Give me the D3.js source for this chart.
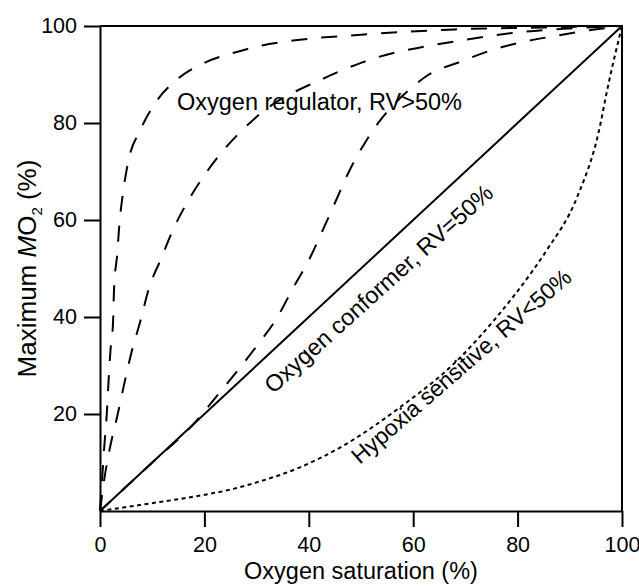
<!DOCTYPE html>
<html lang="en">
<head>
<meta charset="UTF-8" />
<title>Oxygen regulation curves</title>
<script src="https://d3js.org/d3.v7.min.js"></script>
<style>
  body { margin: 0; background: #fff; }
  text { font-family: "Liberation Sans", Arial, sans-serif; fill: #000; }
  .axis path, .axis line { stroke: #000; stroke-width: 2px; }
  .axis text { font-size: 21.5px; }
</style>
</head>
<body>
<div id="chart"></div>
<script>
// ticks
var xTicks = [0, 20, 40, 60, 80, 100];
var yTicks = [20, 40, 60, 80, 100];

// oxygen regulator curves (three dashed lines)
var regAx = [0, 0.4, 0.8, 1.3, 1.6, 2.0, 2.5, 2.7, 3.3, 3.7, 4.4, 5.4, 7.7, 10.5, 14.8, 20, 26, 31, 37, 50, 68, 85, 100];
var regAy = [0, 6.4, 13, 20, 26, 33, 39, 46, 53, 59, 65.5, 72, 78.5, 84, 89, 92.4, 94.6, 96, 97, 98.2, 99.3, 99.7, 100];

var regBx = [0, 0.8, 1.9, 3.4, 4.6, 6.1, 7.7, 9.4, 11.7, 14, 16.9, 20.5, 29.7, 43.5, 50, 56, 62, 69, 75, 81, 90, 100];
var regBy = [0, 6.4, 13, 20, 26, 33, 39, 46, 52, 58, 64, 70, 81, 89.5, 92.4, 94.4, 95.7, 97, 98, 98.8, 99.5, 100];

var regCx = [0, 10, 18, 22.6, 26.4, 30, 34, 37, 40, 42.5, 45, 47.7, 50.8, 54, 59.4, 63, 69, 75, 81, 87.5, 93, 100];
var regCy = [0, 10, 18, 24, 29, 34, 40, 46, 51.7, 57.5, 63.5, 70, 76, 81, 87, 90, 92.6, 95, 96.7, 98, 99, 100];

// oxygen conformer (solid)
var confX = [0, 100];
var confY = [0, 100];

// hypoxia sensitive (dotted)
var hypX = [0, 8.6, 18.2, 24.5, 29.7, 38.3, 46.5, 57.5, 68.4, 76, 83, 85.6, 91.4, 95.5, 97.3, 100];
var hypY = [0, 1.4, 3.0, 4.3, 5.8, 9.0, 13.4, 21.4, 31, 40, 49.7, 53.8, 64.7, 78, 87.5, 100];

function pairs(xs, ys) {
  return xs.map(function(v, i) { return [v, ys[i]]; });
}

var W = 639, H = 587;
var margin = {top: 26, right: 17, bottom: 76, left: 100};
var width = W - margin.left - margin.right,
    height = H - margin.top - margin.bottom;

var svg = d3.select("#chart").append("svg")
    .attr("width", W)
    .attr("height", H);

var g = svg.append("g")
    .attr("transform", "translate(" + margin.left + "," + margin.top + ")");

var x = d3.scaleLinear().domain([0, 100]).range([0, width]);
var y = d3.scaleLinear().domain([0, 100]).range([height, 0]);

// frame (top + right)
g.append("path")
    .attr("d", "M" + x(0) + "," + y(100) + "H" + x(100) + "V" + y(0))
    .attr("fill", "none")
    .attr("stroke", "#000")
    .attr("stroke-width", 2);

// axes
g.append("g")
    .attr("class", "axis")
    .attr("transform", "translate(0," + height + ")")
    .call(d3.axisBottom(x).tickValues(xTicks).tickSize(16).tickSizeOuter(0).tickPadding(10));

g.append("g")
    .attr("class", "axis")
    .call(d3.axisLeft(y).tickValues(yTicks).tickSize(16).tickSizeOuter(0).tickPadding(7));

var line = d3.line()
    .x(function(d) { return x(d[0]); })
    .y(function(d) { return y(d[1]); })
    .curve(d3.curveMonotoneX);

var series = [
  {data: pairs(regAx, regAy), dash: "16,14"},
  {data: pairs(regBx, regBy), dash: "16,14"},
  {data: pairs(regCx, regCy), dash: "16,14"},
  {data: pairs(confX, confY), dash: null},
  {data: pairs(hypX, hypY), dash: "4,3.5"}
];

g.selectAll(".curve")
  .data(series)
  .enter().append("path")
    .attr("class", "curve")
    .attr("d", function(d) { return line(d.data); })
    .attr("fill", "none")
    .attr("stroke", "#000")
    .attr("stroke-width", 2)
    .attr("stroke-dasharray", function(d) { return d.dash; });

// curve labels
g.append("text")
    .attr("x", x(14.75))
    .attr("y", y(82.7))
    .style("font-size", "23.5px")
    .text("Oxygen regulator, RV>50%");

g.append("text")
    .attr("transform", "translate(" + x(54.4) + "," + y(44.6) + ") rotate(-42)")
    .attr("text-anchor", "middle")
    .style("font-size", "23.5px")
    .text("Oxygen conformer, RV=50%");

g.append("text")
    .attr("transform", "translate(" + x(70.2) + "," + y(28.6) + ") rotate(-41)")
    .attr("text-anchor", "middle")
    .style("font-size", "23px")
    .text("Hypoxia sensitive, RV<50%");

// axis titles
svg.append("text")
    .attr("x", margin.left + width / 2)
    .attr("y", 579)
    .attr("text-anchor", "middle")
    .style("font-size", "23.5px")
    .text("Oxygen saturation (%)");

var yl = svg.append("text")
    .attr("transform", "translate(36," + (margin.top + height / 2) + ") rotate(-90)")
    .attr("text-anchor", "middle")
    .style("font-size", "26px");
yl.append("tspan").text("Maximum ");
yl.append("tspan").style("font-style", "italic").text("M");
yl.append("tspan").text("O");
yl.append("tspan").attr("dy", 6).style("font-size", "15px").text("2");
yl.append("tspan").attr("dy", -6).text(" (%)");
</script>
</body>
</html>
